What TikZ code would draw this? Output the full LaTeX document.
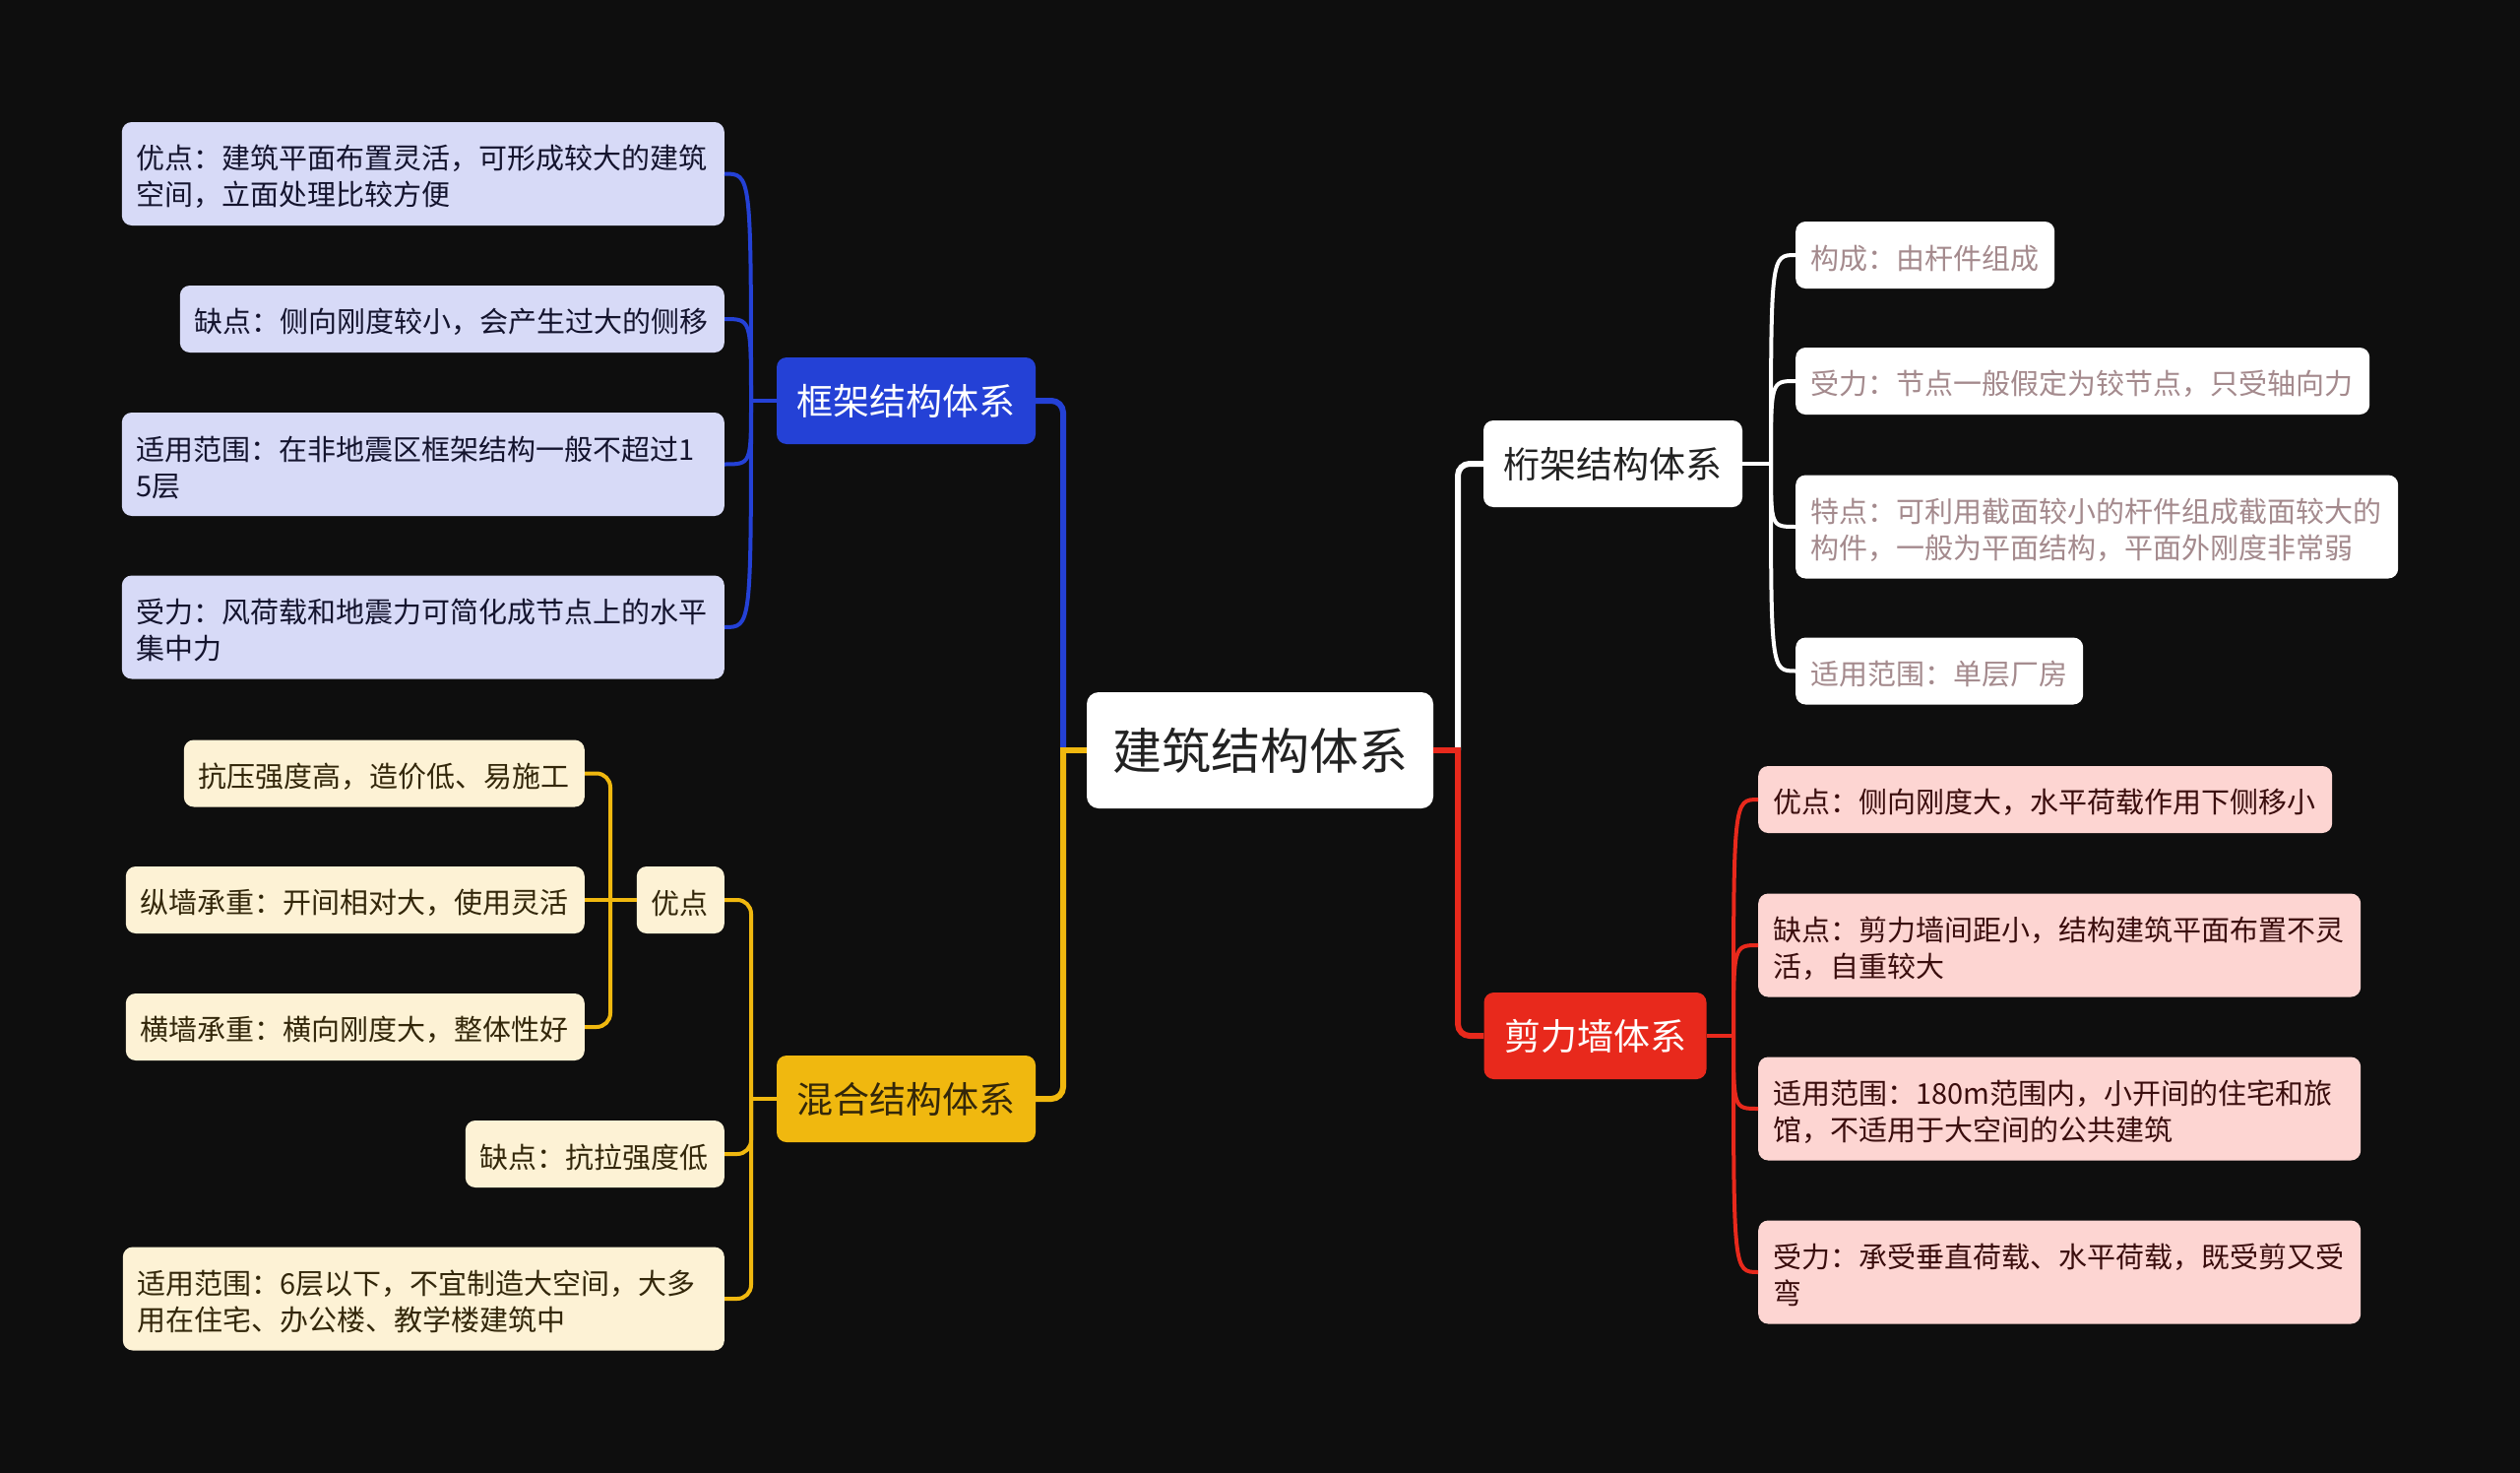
\documentclass[tikz,border=0pt]{standalone}
\usepackage{fontspec}
\setmainfont{Noto Sans CJK SC}
\definecolor{bgc}{HTML}{0E0E0E}
\definecolor{bl}{HTML}{2441D6}
\definecolor{blf}{HTML}{D7DAF7}
\definecolor{blt}{HTML}{14142E}
\definecolor{yl}{HTML}{F0B80F}
\definecolor{ylf}{HTML}{FDF2D5}
\definecolor{ylt}{HTML}{33270A}
\definecolor{rd}{HTML}{E8291C}
\definecolor{rdf}{HTML}{FDD5D2}
\definecolor{rdt}{HTML}{3A0D0D}
\definecolor{wtt}{HTML}{A48A8D}
\definecolor{dk}{HTML}{222222}
\begin{document}
\begin{tikzpicture}[x=1pt,y=-1pt,
 box/.style={rounded corners=10pt, inner xsep=15pt, inner ysep=0pt, align=left,
   font=\fontsize{29}{37}\selectfont, minimum height=68pt,
   execute at begin node={\rule{0pt}{31pt}}},
 tall/.style={minimum height=105pt},
 bluec/.style={box, fill=blf, text=blt, anchor=east},
 yelc/.style={box, fill=ylf, text=ylt, anchor=east},
 redc/.style={box, fill=rdf, text=rdt, anchor=west},
 whtc/.style={box, fill=white, text=wtt, anchor=west},
 mainbox/.style={rounded corners=10pt, inner xsep=20.5pt, inner ysep=0pt,
   minimum height=88pt, font=\fontsize{37}{44}\selectfont},
 mainln/.style={line width=6pt, rounded corners=12pt},
 subln/.style={line width=4pt},
]
\useasboundingbox (0,0) rectangle (2560,1496);
\fill[bgc] (0,0) rectangle (2560,1496);

% root and main branches
\node[mainbox, fill=white, text=dk, minimum height=118pt, inner xsep=26pt,
  font=\fontsize{50}{60}\selectfont, rounded corners=12pt] (root) at (1280,762) {建筑结构体系};
\node[mainbox, fill=bl, text=white] (fj) at (920.5,407) {框架结构体系};
\node[mainbox, fill=yl, text=ylt] (hh) at (920.5,1116) {混合结构体系};
\node[mainbox, fill=white, text=dk] (hj) at (1638.5,471) {桁架结构体系};
\node[mainbox, fill=rd, text=white] (jl) at (1620.5,1052) {剪力墙体系};

% blue children
\node[bluec, tall, text width=582pt] (b1) at (736,176.5) {优点：建筑平面布置灵活，可形成较大的建筑\\空间，立面处理比较方便};
\node[bluec, text width=523pt] (b2) at (736,324) {缺点：侧向刚度较小，会产生过大的侧移};
\node[bluec, tall, text width=582pt] (b3) at (736,471.5) {适用范围：在非地震区框架结构一般不超过1\\5层};
\node[bluec, tall, text width=582pt] (b4) at (736,637) {受力：风荷载和地震力可简化成节点上的水平\\集中力};

% yellow children
\node[yelc, text width=59pt] (ya) at (736,914) {优点};
\node[yelc, text width=377pt] (ya1) at (594,785.5) {抗压强度高，造价低、易施工};
\node[yelc, text width=436pt] (ya2) at (594,914) {纵墙承重：开间相对大，使用灵活};
\node[yelc, text width=436pt] (ya3) at (594,1043) {横墙承重：横向刚度大，整体性好};
\node[yelc, text width=233pt] (yb) at (736,1172) {缺点：抗拉强度低};
\node[yelc, tall, text width=581pt] (yc) at (736,1319) {适用范围：6层以下，不宜制造大空间，大多\\用在住宅、办公楼、教学楼建筑中};

% white children
\node[whtc, text width=233pt] (w1) at (1824,259) {构成：由杆件组成};
\node[whtc, text width=553pt] (w2) at (1824,387) {受力：节点一般假定为铰节点，只受轴向力};
\node[whtc, tall, text width=582pt] (w3) at (1824,535) {特点：可利用截面较小的杆件组成截面较大的\\构件，一般为平面结构，平面外刚度非常弱};
\node[whtc, text width=262pt] (w4) at (1824,681.5) {适用范围：单层厂房};

% red children
\node[redc, text width=553pt] (r1) at (1786,812) {优点：侧向刚度大，水平荷载作用下侧移小};
\node[redc, tall, text width=582pt] (r2) at (1786,960) {缺点：剪力墙间距小，结构建筑平面布置不灵\\活，自重较大};
\node[redc, tall, text width=582pt] (r3) at (1786,1126) {适用范围：180m范围内，小开间的住宅和旅\\馆，不适用于大空间的公共建筑};
\node[redc, tall, text width=582pt] (r4) at (1786,1292) {受力：承受垂直荷载、水平荷载，既受剪又受\\弯};

% junction coordinates
\coordinate (lt) at (1080,762);
\coordinate (rt) at (1481,762);
\coordinate (bt) at (763,407);
\coordinate (yt) at (763,1116);
\coordinate (yat) at (620,914);
\coordinate (wt) at (1799,471);
\coordinate (rtt) at (1761,1052);

% main connectors
\draw[mainln, bl] (lt) |- (fj.east);
\draw[mainln, yl] (lt) |- (hh.east);
\draw[line width=6pt, yl] (root.west) -- ([xshift=-3pt]lt);
\draw[mainln, white] (rt) |- (hj.west);
\draw[mainln, rd] (rt) |- (jl.west);
\draw[line width=6pt, rd] (root.east) -- ([xshift=3pt]rt);

% blue sub connectors
\draw[subln, bl] (fj.west) -- (bt);
\foreach \c in {b1,b2,b3,b4}
  \draw[subln, bl] (bt) .. controls (bt |- \c.east) and (bt |- \c.east) .. (\c.east);

% yellow sub connectors
\draw[subln, yl] (hh.west) -- (yt);
\foreach \c in {ya,yb,yc}
  \draw[subln, yl, rounded corners=14pt] (yt) |- (\c.east);
\draw[subln, yl] (ya.west) -- (yat);
\draw[subln, yl, rounded corners=14pt] (yat) |- (ya1.east);
\draw[subln, yl] (yat) -- (ya2.east);
\draw[subln, yl, rounded corners=14pt] (yat) |- (ya3.east);

% white sub connectors
\draw[subln, white] (hj.east) -- (wt);
\foreach \c in {w1,w2,w3,w4}
  \draw[subln, white] (wt) .. controls (wt |- \c.west) and (wt |- \c.west) .. (\c.west);

% red sub connectors
\draw[subln, rd] (jl.east) -- (rtt);
\foreach \c in {r1,r2,r3,r4}
  \draw[subln, rd] (rtt) .. controls (rtt |- \c.west) and (rtt |- \c.west) .. (\c.west);
\end{tikzpicture}
\end{document}
